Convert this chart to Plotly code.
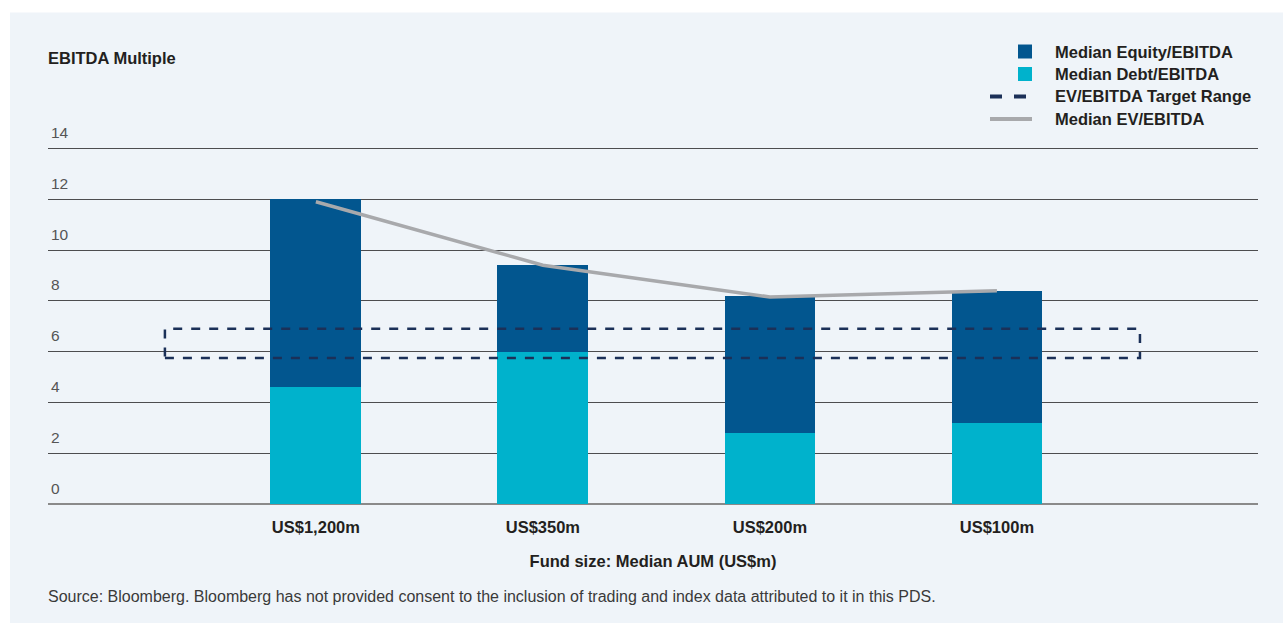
import plotly.graph_objects as go

# data
categories = ["US$1,200m", "US$350m", "US$200m", "US$100m"]
debt_ebitda = [4.6, 6.0, 2.8, 3.2]
equity_ebitda = [7.4, 3.4, 5.4, 5.2]
ev_ebitda = [11.9, 9.4, 8.15, 8.4]
target_range = [5.75, 6.9]
y_ticks = [0, 2, 4, 6, 8, 10, 12, 14]

EQUITY = "#02568F"
DEBT = "#00B2CC"
NAVY = "#1B3058"
GREY = "#A8A9AC"
PANEL = "#EFF4F9"
TEXT = "#231F20"
FONT = "Liberation Sans, Arial, sans-serif"

W, H = 1283, 623
YMAX = 15
# y=0 sits at 504px and y=14 at 148px in the reference
L, R, B = 48, 25, 119
T = (H - B) - (H - B - 148) * YMAX / 14
pw, ph = W - L - R, H - T - B


def px(x):
    return (x - L) / pw


def py(y):
    return (H - B - y) / ph


xs = list(range(len(categories)))

fig = go.Figure()
fig.add_trace(go.Bar(x=xs, y=debt_ebitda, name="Median Debt/EBITDA",
                     marker=dict(color=DEBT, line=dict(width=0)), width=0.4))
fig.add_trace(go.Bar(x=xs, y=equity_ebitda, name="Median Equity/EBITDA",
                     marker=dict(color=EQUITY, line=dict(width=0)), width=0.4))
fig.add_trace(go.Scatter(x=xs, y=ev_ebitda, name="Median EV/EBITDA", mode="lines",
                         line=dict(color=GREY, width=3.5)))

# target range box
fig.add_shape(type="rect", xref="x", yref="y", x0=-0.665, x1=3.63,
              y0=target_range[0], y1=target_range[1],
              line=dict(color=NAVY, width=2.5, dash="dash"), layer="above")

# background panel
fig.add_shape(type="rect", xref="paper", yref="paper", x0=px(10), x1=px(W + 5),
              y0=py(H + 5), y1=py(12), fillcolor=PANEL, line=dict(width=0),
              layer="below")

# custom legend
legend_rows = [
    ("Median Equity/EBITDA", "sq", EQUITY),
    ("Median Debt/EBITDA", "sq", DEBT),
    ("EV/EBITDA Target Range", "dash", NAVY),
    ("Median EV/EBITDA", "line", GREY),
]
for i, (label, kind, col) in enumerate(legend_rows):
    yc = 51 + i * 22.5
    if kind == "sq":
        fig.add_shape(type="rect", xref="paper", yref="paper",
                      x0=px(1018), x1=px(1032), y0=py(yc + 7), y1=py(yc - 7),
                      fillcolor=col, line=dict(width=0))
    else:
        fig.add_shape(type="line", xref="paper", yref="paper",
                      x0=px(990), x1=px(1032), y0=py(yc), y1=py(yc),
                      line=dict(color=col, width=4,
                                dash="dash" if kind == "dash" else "solid"))
    fig.add_annotation(x=px(1053), y=py(yc), xref="paper", yref="paper",
                       text="<b>" + label + "</b>", showarrow=False,
                       xanchor="left", yanchor="middle",
                       font=dict(size=16.5, color=TEXT, family=FONT))

fig.add_annotation(x=px(46), y=py(57), xref="paper", yref="paper",
                   text="<b>EBITDA Multiple</b>", showarrow=False,
                   xanchor="left", yanchor="middle",
                   font=dict(size=16.5, color=TEXT, family=FONT))
fig.add_annotation(x=px(46), y=py(597), xref="paper", yref="paper",
                   text="Source: Bloomberg. Bloomberg has not provided consent to the inclusion "
                        "of trading and index data attributed to it in this PDS.",
                   showarrow=False, xanchor="left", yanchor="middle",
                   font=dict(size=16, color="#3A3A3A", family=FONT))

fig.update_layout(
    width=W, height=H, barmode="stack", showlegend=False,
    margin=dict(l=L, r=R, t=T, b=B, pad=0),
    paper_bgcolor="white", plot_bgcolor="rgba(0,0,0,0)",
    font=dict(family=FONT, color=TEXT),
)
fig.update_xaxes(range=[-1.18, 4.15], tickvals=xs,
                 ticktext=["<b>" + c + "</b>" for c in categories],
                 tickfont=dict(size=16.5, color=TEXT), ticks="", showgrid=False,
                 ticklabelstandoff=11,
                 zeroline=False, showline=False,
                 title=dict(text="<b>Fund size: Median AUM (US$m)</b>",
                            font=dict(size=16.5, color=TEXT), standoff=20))
fig.update_yaxes(range=[0, YMAX], tickvals=y_ticks, ticklabelposition="inside top",
                 ticklabelshift=-5,
                 tickfont=dict(size=15.5, color="#555555"), showgrid=True,
                 gridcolor="#4D4D4F", gridwidth=1, zeroline=True,
                 zerolinecolor="#8A8A8A", zerolinewidth=2, showline=False)

fig.write_html("out.html", config={"displayModeBar": False},
               post_script="document.body.style.margin='0';")
